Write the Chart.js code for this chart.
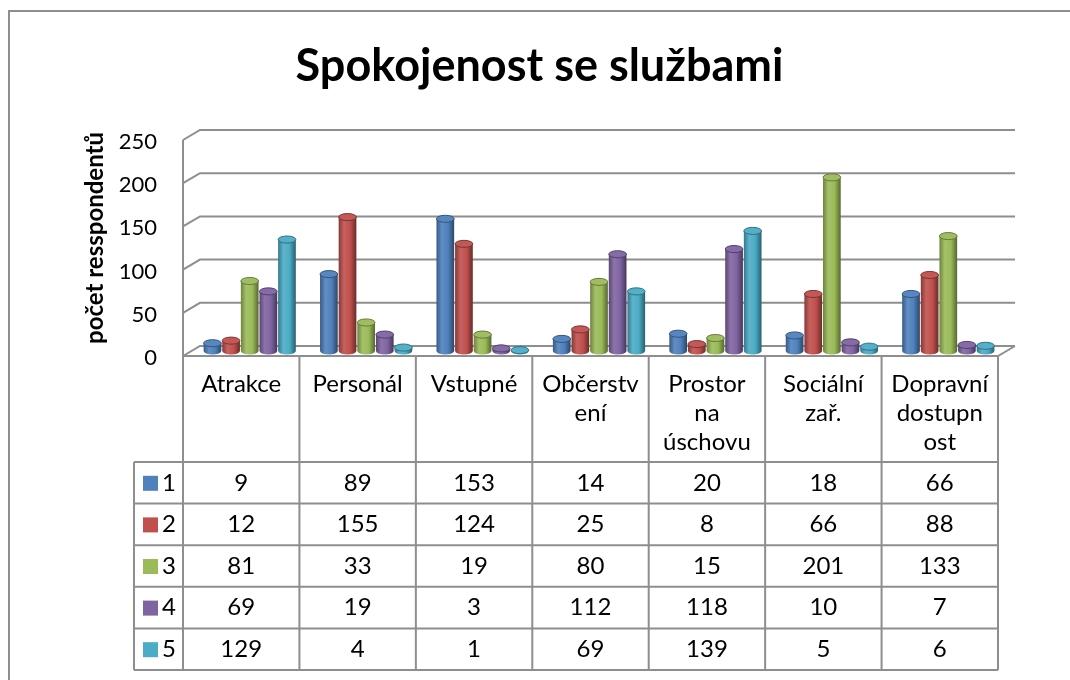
<!DOCTYPE html>
<html>
<head>
<meta charset="utf-8">
<script src="https://cdn.jsdelivr.net/npm/chart.js@4/dist/chart.umd.min.js"></script>
<style>
  html, body { margin: 0; background: #fff; }
  #wrap { width: 1070px; height: 680px; }
</style>
</head>
<body>
<div id="wrap"><canvas id="chart" width="1070" height="680"></canvas></div>
<script>
const categories = ["Atrakce", "Personál", "Vstupné", "Občerstvení", "Prostor na úschovu", "Sociální zař.", "Dopravní dostupnost"];
const categoryLines = [["Atrakce"], ["Personál"], ["Vstupné"], ["Občerstv", "ení"], ["Prostor", "na", "úschovu"], ["Sociální", "zař."], ["Dopravní", "dostupn", "ost"]];
const seriesNames = ["1", "2", "3", "4", "5"];
const series1 = [9, 89, 153, 14, 20, 18, 66];
const series2 = [12, 155, 124, 25, 8, 66, 88];
const series3 = [81, 33, 19, 80, 15, 201, 133];
const series4 = [69, 19, 3, 112, 118, 10, 7];
const series5 = [129, 4, 1, 69, 139, 5, 6];
const seriesColors = ["#4f81bd", "#c0504d", "#9bbb59", "#8064a2", "#4bacc6"];
const yTicks = [0, 50, 100, 150, 200, 250];

const FONT = "Lato, 'Open Sans', sans-serif";
const LINE = "#8e8e8e";
const DX = 17, DY = 10; // depth of the fake 3d box

const shade = (hex, amt) => {
  const n = parseInt(hex.slice(1), 16);
  let r = n >> 16, g = (n >> 8) & 255, b = n & 255;
  const t = amt < 0 ? 0 : 255, p = Math.abs(amt);
  r = Math.round(r + (t - r) * p);
  g = Math.round(g + (t - g) * p);
  b = Math.round(b + (t - b) * p);
  return `rgb(${r},${g},${b})`;
};

const cylinder = (ctx, x, top, base, w, color) => {
  const rx = w / 2, ry = w * 0.2;
  const g = ctx.createLinearGradient(x - rx, 0, x + rx, 0);
  g.addColorStop(0, shade(color, -0.3));
  g.addColorStop(0.3, shade(color, 0.1));
  g.addColorStop(0.65, color);
  g.addColorStop(1, shade(color, -0.45));
  ctx.fillStyle = g;
  ctx.beginPath();
  ctx.moveTo(x - rx, top);
  ctx.lineTo(x - rx, base);
  ctx.ellipse(x, base, rx, ry, 0, Math.PI, 0, true);
  ctx.lineTo(x + rx, top);
  ctx.closePath();
  ctx.fill();
  ctx.beginPath();
  ctx.ellipse(x, top, rx, ry, 0, 0, Math.PI * 2);
  ctx.fillStyle = shade(color, 0.05);
  ctx.fill();
  ctx.strokeStyle = shade(color, -0.35);
  ctx.lineWidth = 1;
  ctx.stroke();
};

const boxPlugin = {
  id: "box3d",
  beforeDraw(chart) {
    const { ctx } = chart;
    ctx.save();
    ctx.strokeStyle = LINE;
    ctx.lineWidth = 2;
    ctx.strokeRect(9, 11, 1100, 700);
    ctx.restore();
  },
  beforeDatasetsDraw(chart) {
    const { ctx, chartArea: { left: L, right: R, top: T, bottom: B } } = chart;
    const y = chart.scales.y;
    ctx.save();
    ctx.strokeStyle = LINE;
    ctx.lineWidth = 2;
    ctx.beginPath();
    y.ticks.forEach((t) => {
      const py = y.getPixelForValue(t.value);
      ctx.moveTo(L, py + DY);
      ctx.lineTo(L + DX, py);
      ctx.lineTo(R + DX, py);
    });
    ctx.moveTo(L, T + DY);
    ctx.lineTo(L, B + DY);
    ctx.lineTo(R, B + DY);
    ctx.lineTo(R + DX, B);
    ctx.stroke();
    ctx.restore();
  },
  beforeDatasetDraw() {
    return false;
  },
  afterDatasetsDraw(chart) {
    const { ctx } = chart;
    ctx.save();
    ctx.translate(DX / 2, DY / 2);
    chart.data.datasets.forEach((ds, i) => {
      chart.getDatasetMeta(i).data.forEach((bar) => {
        cylinder(ctx, bar.x, bar.y, bar.base, bar.width, ds.backgroundColor);
      });
    });
    ctx.restore();
  },
  afterDraw(chart) {
    const { ctx, chartArea: { left: L, right: R, bottom: B } } = chart;
    const x = chart.scales.x;
    const cw = (R - L) / categories.length;
    const headTop = B + DY, headBottom = 462, rowH = 41.6, legLeft = 134;
    const tableBottom = headBottom + rowH * seriesNames.length;
    ctx.save();
    ctx.strokeStyle = LINE;
    ctx.lineWidth = 2;
    ctx.beginPath();
    for (let i = 0; i <= categories.length; i++) {
      ctx.moveTo(L + i * cw, headTop);
      ctx.lineTo(L + i * cw, tableBottom);
    }
    ctx.moveTo(legLeft, headBottom);
    ctx.lineTo(legLeft, tableBottom);
    for (let k = 0; k <= seriesNames.length; k++) {
      ctx.moveTo(legLeft, headBottom + k * rowH);
      ctx.lineTo(R, headBottom + k * rowH);
    }
    ctx.stroke();

    ctx.fillStyle = "#000";
    ctx.font = `24px ${FONT}`;
    ctx.textAlign = "center";
    ctx.textBaseline = "middle";
    categoryLines.forEach((lines, i) => {
      const cx = x.getPixelForValue(i);
      lines.forEach((s, j) => ctx.fillText(s, cx, 384 + j * 29));
    });
    chart.data.datasets.forEach((ds, k) => {
      const cy = headBottom + (k + 0.5) * rowH;
      ds.data.forEach((v, i) => {
        ctx.fillStyle = "#000";
        ctx.textAlign = "center";
        ctx.fillText(String(v), x.getPixelForValue(i), cy);
      });
      ctx.fillStyle = ds.backgroundColor;
      ctx.fillRect(143, cy - 7, 15, 15);
      ctx.fillStyle = "#000";
      ctx.textAlign = "left";
      ctx.fillText(ds.label, 162, cy);
    });
    ctx.restore();
  }
};

const seriesValues = [series1, series2, series3, series4, series5];

new Chart(document.getElementById("chart"), {
  type: "bar",
  data: {
    labels: categories,
    datasets: seriesNames.map((name, i) => ({
      label: name,
      data: seriesValues[i],
      backgroundColor: seriesColors[i],
      categoryPercentage: 0.8,
      barPercentage: 0.95
    }))
  },
  options: {
    responsive: false,
    animation: false,
    devicePixelRatio: 1,
    layout: { padding: { left: 81, right: 72, top: 0, bottom: 334 } },
    plugins: {
      legend: { display: false },
      tooltip: { enabled: false },
      title: {
        display: true,
        text: "Spokojenost se službami",
        color: "#000",
        font: { family: FONT, size: 45, weight: "bold" },
        padding: { top: 39, bottom: 37 }
      }
    },
    scales: {
      x: { display: false },
      y: {
        min: 0,
        max: 250,
        afterBuildTicks: (scale) => { scale.ticks = yTicks.map((v) => ({ value: v })); },
        afterFit: (scale) => { scale.width = 102; },
        grid: { display: false, drawTicks: false },
        border: { display: false },
        ticks: { color: "#000", padding: 26, labelOffset: 12, font: { family: FONT, size: 22 } },
        title: {
          display: true,
          text: "počet resspondentů",
          color: "#000",
          padding: 0,
          font: { family: FONT, size: 24, weight: "bold" }
        }
      }
    }
  },
  plugins: [boxPlugin]
});
</script>
</body>
</html>
